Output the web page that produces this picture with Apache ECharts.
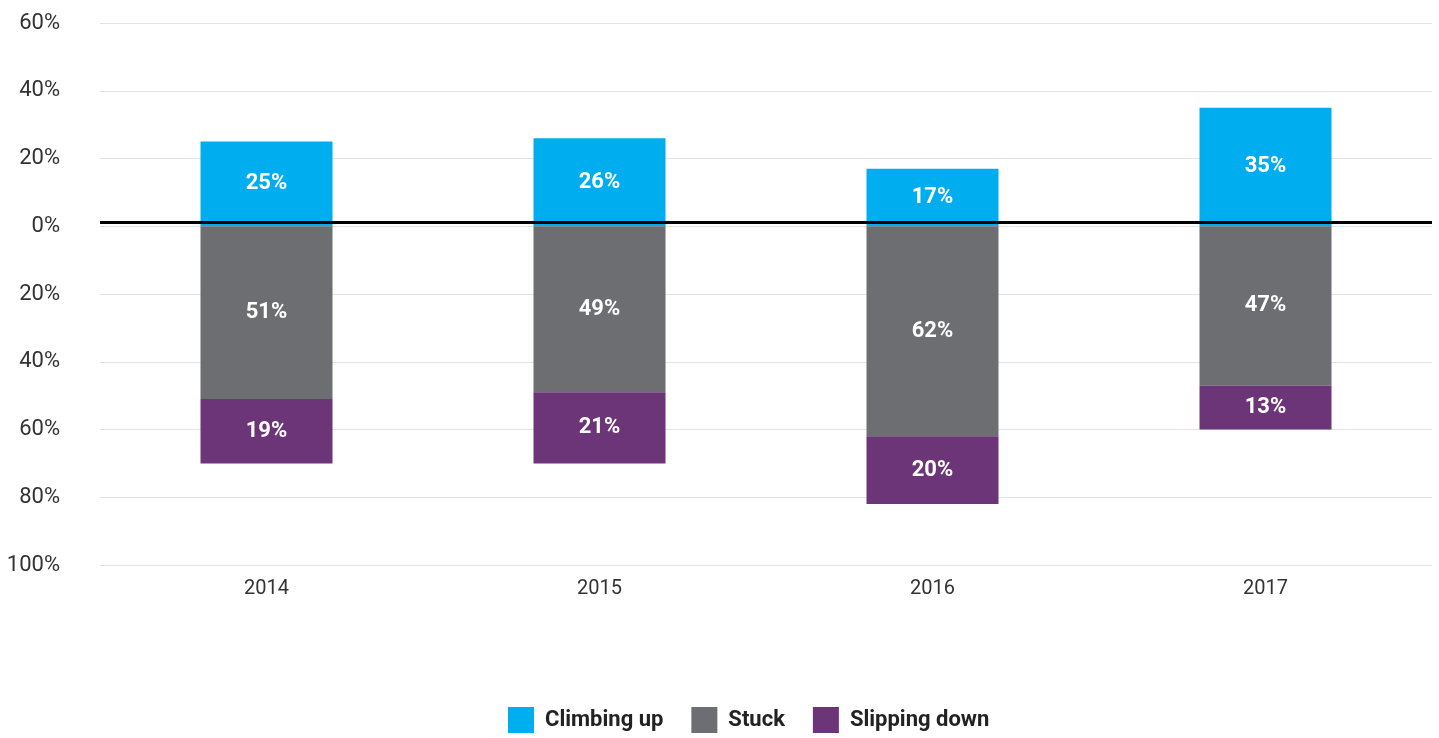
<!DOCTYPE html>
<html>
<head>
<meta charset="utf-8">
<script src="https://cdn.jsdelivr.net/npm/echarts@6/dist/echarts.min.js"></script>
<style>
  html, body { margin: 0; padding: 0; background: #fff; }
  #chart { width: 1439px; height: 738px; }
</style>
</head>
<body>
<div id="chart"></div>
<script>
const years = ["2014", "2015", "2016", "2017"];
const climbingUp = [25, 26, 17, 35];
const stuck = [-51, -49, -62, -47];
const slippingDown = [-19, -21, -20, -13];

const font = '"Roboto", sans-serif';

// white % labels inside the bars, shown without sign
const label = {
  show: true,
  position: "inside",
  color: "#fff",
  fontWeight: "bold",
  fontSize: 22,
  fontFamily: font,
  formatter: (p) => Math.abs(p.value) + "%",
};

const chart = echarts.init(document.getElementById("chart"));
chart.setOption({
  animation: false,
  textStyle: { fontFamily: font },
  grid: { left: 100, right: 7, top: 23, bottom: 173 },
  legend: {
    bottom: 0,
    left: 503,
    itemWidth: 26,
    itemHeight: 26,
    itemGap: 28,
    icon: "rect",
    textStyle: {
      fontSize: 22,
      fontWeight: "bold",
      color: "#222",
      fontFamily: font,
      padding: [0, 0, 0, 6],
    },
    data: ["Climbing up", "Stuck", "Slipping down"],
  },
  xAxis: {
    type: "category",
    data: years,
    axisLine: { show: false, onZero: false },
    axisTick: { show: false },
    axisLabel: { fontSize: 20, color: "#333", margin: 14, fontFamily: font },
  },
  yAxis: {
    type: "value",
    min: -100,
    max: 60,
    interval: 20,
    axisLabel: {
      fontSize: 22,
      color: "#333",
      margin: 40,
      fontFamily: font,
      formatter: (v) => Math.abs(v) + "%",
    },
    splitLine: { lineStyle: { color: "#e3e3e3", width: 1 } },
  },
  series: [
    {
      name: "Climbing up",
      type: "bar",
      stack: "total",
      barWidth: 132,
      data: climbingUp,
      itemStyle: { color: "#00aeef" },
      label: label,
      markLine: {
        silent: true,
        symbol: "none",
        label: { show: false },
        lineStyle: { color: "#000", width: 3, type: "solid" },
        data: [{ yAxis: 1.2 }],
      },
    },
    {
      name: "Stuck",
      type: "bar",
      stack: "total",
      data: stuck,
      itemStyle: { color: "#6d6e71" },
      label: label,
    },
    {
      name: "Slipping down",
      type: "bar",
      stack: "total",
      data: slippingDown,
      itemStyle: { color: "#6c3578" },
      label: label,
    },
  ],
});
</script>
</body>
</html>
